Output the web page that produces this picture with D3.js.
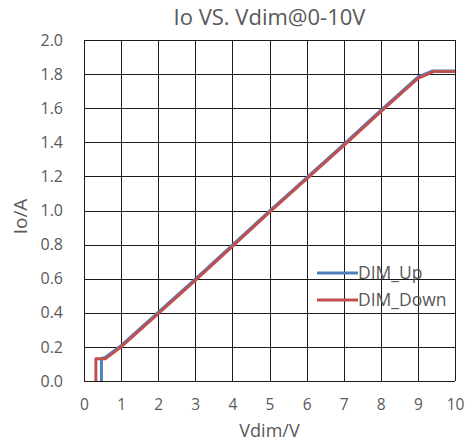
<!DOCTYPE html>
<html>
<head>
<meta charset="utf-8">
<script src="https://d3js.org/d3.v7.min.js"></script>
<style>
  body { margin: 0; background: #fff; }
  text { font-family: "Open Sans", "Noto Sans", sans-serif; fill: #595959; }
</style>
</head>
<body>
<div id="chart"></div>
<script>
// Data
var vdimUp   = [0.47, 0.47, 0.57, 1, 2, 3, 4, 5, 6, 7, 8, 9, 9.38, 9.5, 10];
var ioUp     = [0, 0.132, 0.138, 0.207, 0.402, 0.598, 0.797, 0.996, 1.192, 1.388, 1.587, 1.782, 1.818, 1.818, 1.818];
var vdimDown = [0.32, 0.32, 0.57, 1, 2, 3, 4, 5, 6, 7, 8, 9, 9.42, 9.5, 10];
var ioDown   = [0, 0.13, 0.13, 0.2, 0.395, 0.59, 0.79, 0.99, 1.185, 1.38, 1.58, 1.775, 1.815, 1.815, 1.815];
var xTicks = [0, 1, 2, 3, 4, 5, 6, 7, 8, 9, 10];
var yTicks = [0, 0.2, 0.4, 0.6, 0.8, 1.0, 1.2, 1.4, 1.6, 1.8, 2.0];
var seriesNames = ["DIM_Up", "DIM_Down"];

function init() {

  // Margins & dimensions
  var margin = {top: 40, right: 14, bottom: 64, left: 84},
      width = 469 - margin.left - margin.right,
      height = 445 - margin.top - margin.bottom;

  var svg = d3.select("#chart")
              .append("svg")
              .attr("width", 469)
              .attr("height", 445);

  var g = svg.append("g")
             .attr("transform", "translate(" + margin.left + "," + margin.top + ")");

  var x = d3.scaleLinear().domain([0, 10]).range([0, width]);
  var y = d3.scaleLinear().domain([0, 2]).range([height, 0]);

  // grid lines
  g.append("g")
   .selectAll("line")
   .data(xTicks)
   .enter().append("line")
     .attr("x1", function(d) { return Math.round(x(d)) + 0.5; })
     .attr("x2", function(d) { return Math.round(x(d)) + 0.5; })
     .attr("y1", 0)
     .attr("y2", height)
     .attr("stroke", "#1a1a1a");

  g.append("g")
   .selectAll("line")
   .data(yTicks)
   .enter().append("line")
     .attr("y1", function(d) { return Math.round(y(d)) + 0.5; })
     .attr("y2", function(d) { return Math.round(y(d)) + 0.5; })
     .attr("x1", 0)
     .attr("x2", width)
     .attr("stroke", "#1a1a1a");

  // axis labels (no tick marks)
  var xAxis = g.append("g")
     .attr("transform", "translate(0," + height + ")")
     .call(d3.axisBottom(x).tickValues(xTicks).tickSize(0).tickPadding(18).tickFormat(d3.format("d")));
  xAxis.select(".domain").remove();
  xAxis.selectAll("text").style("font-size", "15.5px");

  var yAxis = g.append("g")
     .call(d3.axisLeft(y).tickValues(yTicks).tickSize(0).tickPadding(21).tickFormat(d3.format(".1f")));
  yAxis.select(".domain").remove();
  yAxis.selectAll("text").style("font-size", "16px");

  g.selectAll(".tick text").attr("fill", "#595959");

  // the two curves
  var line = d3.line()
               .x(function(d) { return x(d[0]); })
               .y(function(d) { return y(d[1]); });

  var upData = vdimUp.map(function(v, i) { return [v, ioUp[i]]; });
  var downData = vdimDown.map(function(v, i) { return [v, ioDown[i]]; });
  var colors = ["#4f81bd", "#c0504d"];

  [upData, downData].forEach(function(data, i) {
    g.append("path")
     .datum(data)
     .attr("fill", "none")
     .attr("stroke", colors[i])
     .attr("stroke-width", 3)
     .attr("stroke-linejoin", "round")
     .attr("d", line);
  });

  // legend
  var legend = svg.append("g");
  seriesNames.forEach(function(name, i) {
    var ly = 273 + i * 27;
    legend.append("line")
          .attr("x1", 317).attr("x2", 358)
          .attr("y1", ly).attr("y2", ly)
          .attr("stroke", colors[i])
          .attr("stroke-width", 3);
    legend.append("text")
          .attr("x", 358).attr("y", ly + 6)
          .style("font-size", "17.5px")
          .text(name);
  });

  // titles
  svg.append("text")
     .attr("x", margin.left + width / 2)
     .attr("y", 25)
     .attr("text-anchor", "middle")
     .style("font-size", "22px")
     .text("Io VS. Vdim@0-10V");

  svg.append("text")
     .attr("x", margin.left + width / 2)
     .attr("y", 437)
     .attr("text-anchor", "middle")
     .style("font-size", "18px")
     .text("Vdim/V");

  svg.append("text")
     .attr("transform", "translate(27," + (margin.top + height / 2 + 6) + ") rotate(-90)")
     .attr("text-anchor", "middle")
     .style("font-size", "19px")
     .text("Io/A");
}

window.onload = init;
</script>
</body>
</html>
